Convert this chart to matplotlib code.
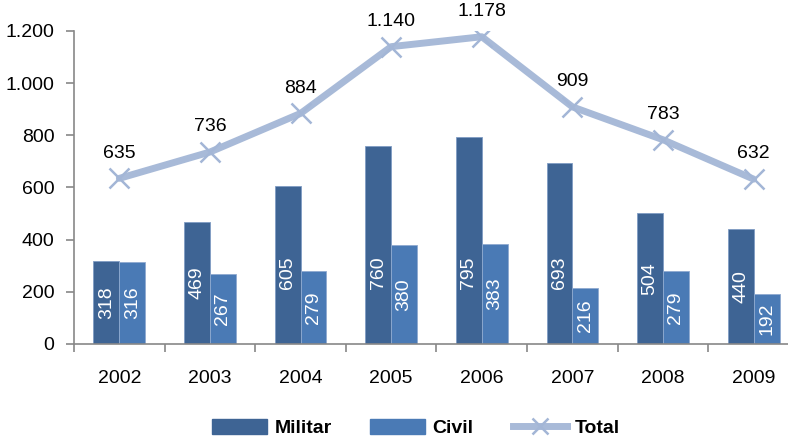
import matplotlib
matplotlib.use("Agg")
import matplotlib.pyplot as plt
import numpy as np
from matplotlib.patches import Patch
from matplotlib.lines import Line2D

years = ["2002", "2003", "2004", "2005", "2006", "2007", "2008", "2009"]
militar = [318, 469, 605, 760, 795, 693, 504, 440]
civil = [316, 267, 279, 380, 383, 216, 279, 192]
total = [635, 736, 884, 1140, 1178, 909, 783, 632]
yticks = [0, 200, 400, 600, 800, 1000, 1200]

plt.rcParams['font.family'] = ['Liberation Sans', 'DejaVu Sans']
fs = 14

def fmt(v):
    return f"{v:,}".replace(",", ".")

W, H = 788, 438
fig = plt.figure(figsize=(W / 100, H / 100), dpi=100)
ax = fig.add_axes([74 / W, 94 / H, 725 / W, 313 / H])

c_mil = "#3E6494"
c_civ = "#4A7AB5"
c_tot = "#A8BAD8"

x = np.arange(len(years))
bw = 0.285
ax.bar(x - bw / 2, militar, bw, color=c_mil, edgecolor="#7F9CC4", linewidth=0.6, zorder=2)
ax.bar(x + bw / 2, civil, bw, color=c_civ, edgecolor="#8FAAD0", linewidth=0.6, zorder=2)

for xi, v in zip(x, militar):
    ax.text(xi - bw / 2, min(v / 2, 275), str(v), rotation=90, ha="center", va="center",
            color="white", fontsize=fs, zorder=4)
for xi, v in zip(x, civil):
    ax.text(xi + bw / 2, min(v / 2, 275), str(v), rotation=90, ha="center", va="center",
            color="white", fontsize=fs, zorder=4)

ax.plot(x, total, color=c_tot, linewidth=5, marker="x", markersize=14,
        markeredgewidth=1.8, markeredgecolor="#A3B6D6", zorder=3, solid_capstyle="round")
for xi, v in zip(x, total):
    ax.annotate(fmt(v), (xi, v), xytext=(0, 12), textcoords="offset points",
                ha="center", va="bottom", fontsize=fs, color="black", zorder=5)

ax.set_xlim(-0.5, len(years) - 0.5)
ax.set_ylim(0, 1200)
ax.set_yticks(yticks)
ax.set_yticklabels([fmt(v) for v in yticks], fontsize=fs)
ax.set_xticks(x)
ax.set_xticklabels(years, fontsize=fs)
ax.tick_params(axis="x", length=0, pad=19)
ax.set_xticks(np.arange(-0.5, len(years), 1), minor=True)
ax.tick_params(axis="x", which="minor", length=6, color="#888888", width=1.2)
ax.tick_params(axis="y", length=6, color="#888888", width=1.2, pad=8)

for s in ["top", "right"]:
    ax.spines[s].set_visible(False)
for s in ["left", "bottom"]:
    ax.spines[s].set_color("#888888")
    ax.spines[s].set_linewidth(1.2)

handles = [Patch(facecolor=c_mil, edgecolor=c_mil),
           Patch(facecolor=c_civ, edgecolor=c_civ),
           Line2D([0], [0], color=c_tot, linewidth=5, marker="x", markersize=12,
                  markeredgewidth=1.8, markeredgecolor="#A3B6D6")]
leg = fig.legend(handles, ["Militar", "Civil", "Total"], loc="center",
                 bbox_to_anchor=(416 / W, 1 - 428 / H), ncol=3, frameon=False,
                 prop={"weight": "bold", "size": fs}, handlelength=2.8, handleheight=0.8,
                 columnspacing=2.0, handletextpad=0.4)

fig.savefig("out.png", dpi=100)
